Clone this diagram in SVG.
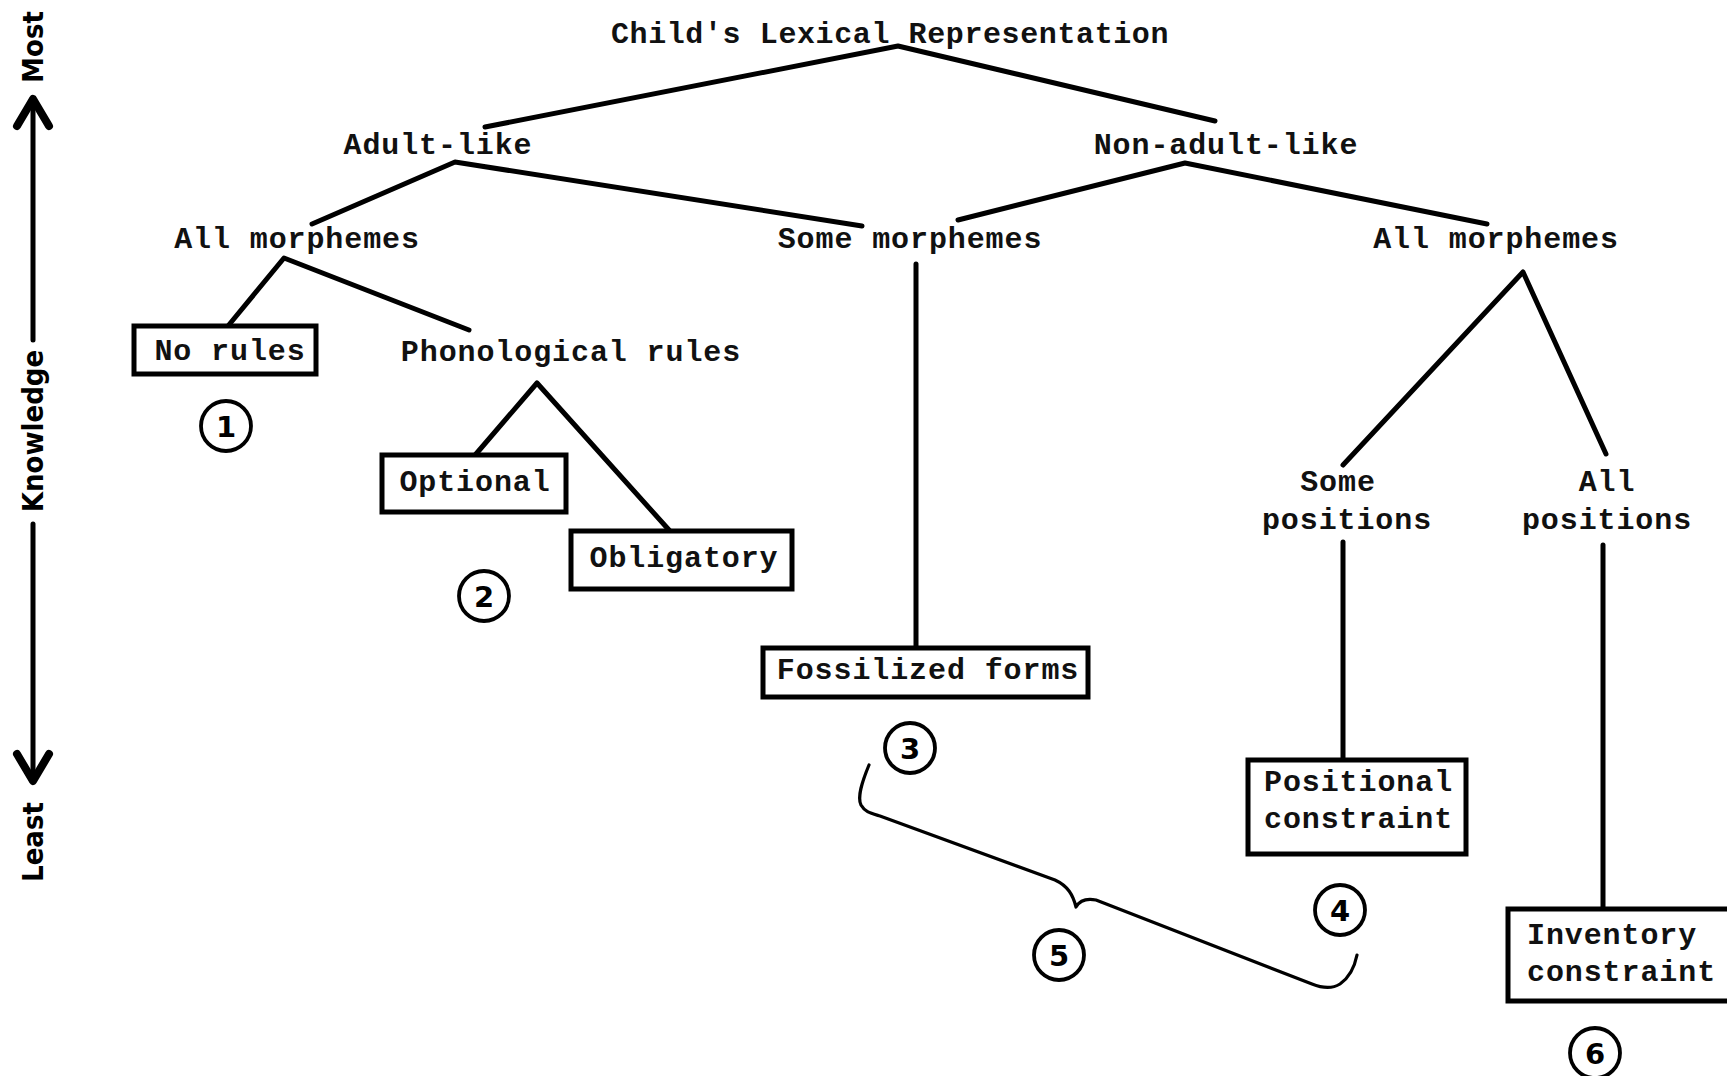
<svg xmlns="http://www.w3.org/2000/svg" width="1727" height="1076" viewBox="0 0 1727 1076">
<style>
.t{font-family:"Liberation Mono","DejaVu Sans Mono",monospace;font-size:30px;font-weight:bold;fill:#111;letter-spacing:0.9px}
.m{text-anchor:middle}
.box{fill:#fff;stroke:#000;stroke-width:5}
.ln{fill:none;stroke:#000;stroke-width:5;stroke-linecap:round;stroke-linejoin:round}
.br{fill:none;stroke:#000;stroke-width:3.2;stroke-linecap:round;stroke-linejoin:round}
.c{fill:#fff;stroke:#000;stroke-width:3.8}
.n{font-family:"DejaVu Sans","Liberation Sans",sans-serif;font-size:29px;font-weight:bold;text-anchor:middle;fill:#000}
.ax{font-family:"DejaVu Sans Condensed","DejaVu Sans","Liberation Sans",sans-serif;font-size:29px;font-weight:bold;fill:#000;text-anchor:middle}
</style>
<rect width="1727" height="1076" fill="#fff"/>

<g id="axis">
  <line class="ln" x1="33" y1="100" x2="33" y2="340"/>
  <line class="ln" x1="33" y1="524" x2="33" y2="780"/>
  <polyline class="ln" points="17,126 33,99 49,126" style="stroke-width:8"/>
  <polyline class="ln" points="17,754 33,781 49,754" style="stroke-width:8"/>
  <text class="ax" transform="translate(43,47) rotate(-90)">Most</text>
  <text class="ax" transform="translate(43,431) rotate(-90)">Knowledge</text>
  <text class="ax" transform="translate(43,842) rotate(-90)">Least</text>
</g>

<g id="connectors">
  <polyline class="ln" points="485,127 898,46 1215,121"/>
  <polyline class="ln" points="312,224 455,162 862,226"/>
  <polyline class="ln" points="958,220 1185,163 1487,224"/>
  <polyline class="ln" points="228,326 284,258 469,330"/>
  <polyline class="ln" points="476,454 537,383 669,530"/>
  <line class="ln" x1="916" y1="264" x2="916" y2="648"/>
  <polyline class="ln" points="1343,465 1523,272 1606,454"/>
  <line class="ln" x1="1343" y1="542" x2="1343" y2="760"/>
  <line class="ln" x1="1603" y1="545" x2="1603" y2="909"/>
  <path class="br" d="M869,765 C862,782 857,797 861,805 C865,812 870,813 880,816 L1055,880 C1068,886 1073,895 1076,907 C1080,900 1086,898 1096,900 L1312,984 C1322,988 1332,989 1340,984 C1350,977 1355,965 1357,955"/>
</g>

<g id="root"><text class="t m" x="890" y="43" style="letter-spacing:0.6px">Child's Lexical Representation</text></g>
<g id="adult-like"><text class="t m" x="438" y="154">Adult-like</text></g>
<g id="non-adult-like"><text class="t m" x="1226" y="154">Non-adult-like</text></g>
<g id="all-morphemes-1"><text class="t m" x="297" y="248">All morphemes</text></g>
<g id="some-morphemes"><text class="t m" x="910" y="248">Some morphemes</text></g>
<g id="all-morphemes-2"><text class="t m" x="1496" y="248">All morphemes</text></g>

<g id="no-rules">
  <rect class="box" x="134" y="326" width="182" height="48"/>
  <text class="t m" x="230" y="360">No rules</text>
</g>
<g id="phonological-rules"><text class="t m" x="571" y="361">Phonological rules</text></g>
<g id="optional">
  <rect class="box" x="382" y="455" width="184" height="57"/>
  <text class="t m" x="475" y="491">Optional</text>
</g>
<g id="obligatory">
  <rect class="box" x="571" y="531" width="221" height="58"/>
  <text class="t m" x="684" y="567">Obligatory</text>
</g>
<g id="fossilized-forms">
  <rect class="box" x="763" y="648" width="325" height="49"/>
  <text class="t m" x="928" y="679">Fossilized forms</text>
</g>
<g id="some-positions">
  <text class="t m" x="1338" y="491">Some</text>
  <text class="t m" x="1347" y="529">positions</text>
</g>
<g id="all-positions">
  <text class="t m" x="1607" y="491">All</text>
  <text class="t m" x="1607" y="529">positions</text>
</g>
<g id="positional-constraint">
  <rect class="box" x="1248" y="760" width="218" height="94"/>
  <text class="t" x="1264" y="791">Positional</text>
  <text class="t" x="1264" y="828">constraint</text>
</g>
<g id="inventory-constraint">
  <rect class="box" x="1508" y="909" width="225" height="92"/>
  <text class="t" x="1527" y="944">Inventory</text>
  <text class="t" x="1527" y="981">constraint</text>
</g>

<g id="label-1"><circle class="c" cx="226" cy="426" r="25"/><text class="n" x="226" y="437">1</text></g>
<g id="label-2"><circle class="c" cx="484" cy="596" r="25"/><text class="n" x="484" y="607">2</text></g>
<g id="label-3"><circle class="c" cx="910" cy="748" r="25"/><text class="n" x="910" y="759">3</text></g>
<g id="label-4"><circle class="c" cx="1340" cy="910" r="25"/><text class="n" x="1340" y="921">4</text></g>
<g id="label-5"><circle class="c" cx="1059" cy="955" r="25"/><text class="n" x="1059" y="966">5</text></g>
<g id="label-6"><circle class="c" cx="1595" cy="1053" r="25"/><text class="n" x="1595" y="1064">6</text></g>
</svg>
